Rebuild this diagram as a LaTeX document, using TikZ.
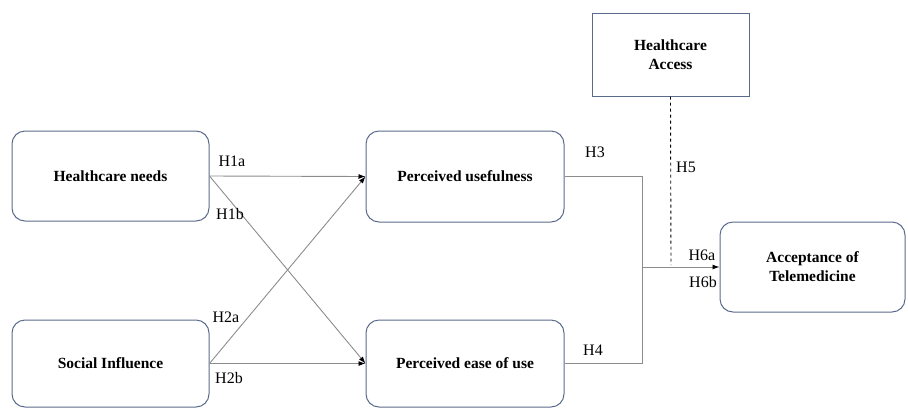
\documentclass[tikz,border=0pt]{standalone}
\usepackage{fontspec}
\setmainfont{LiberationSerif}[Extension=.ttf,UprightFont=*-Regular,BoldFont=*-Bold,ItalicFont=*-Italic,BoldItalicFont=*-BoldItalic]
\usetikzlibrary{arrows.meta}
\definecolor{boxc}{HTML}{5B6B8C}
\definecolor{linec}{HTML}{8C8C8C}
\begin{document}
\begin{tikzpicture}[x=1pt,y=-1pt,
  rbox/.style={draw=boxc,line width=1pt,rounded corners=13pt,inner sep=0pt,align=center,
    font=\fontsize{15.5}{19}\selectfont\bfseries},
  sbox/.style={draw=boxc,line width=1pt,inner sep=0pt,align=center,
    font=\fontsize{15.5}{19}\selectfont\bfseries},
  conn/.style={draw=linec,line width=0.9pt},
  tip/.style={-{Latex[length=7pt,width=5pt,black]}},
  lab/.style={inner sep=0pt,font=\fontsize{16}{19}\selectfont}]
\useasboundingbox (0,0) rectangle (908,408);
\node[rbox,minimum width=197pt,minimum height=90pt] (hn) at (110.5,176) {Healthcare needs};
\node[rbox,minimum width=197pt,minimum height=87pt] (si) at (110.5,363.5) {Social Influence};
\node[rbox,minimum width=198pt,minimum height=91pt] (pu) at (465,176.5) {Perceived usefulness};
\node[rbox,minimum width=198pt,minimum height=87pt] (peu) at (465,363.5) {Perceived ease of use};
\node[rbox,minimum width=185pt,minimum height=90pt] (acc) at (812.5,267) {Acceptance of\\Telemedicine};
\node[sbox,minimum width=157pt,minimum height=83pt] (ha) at (670.5,54.5) {Healthcare\\Access};
\coordinate (j) at (642,267);
\coordinate (d) at (671,265);
\draw[conn,tip] (hn.east) -- (pu.west);
\draw[conn,tip] (hn.east) -- (peu.west);
\draw[conn,tip] (si.east) -- (pu.west);
\draw[conn,tip] (si.east) -- (peu.west);
\draw[conn] (pu.east) -| (j);
\draw[conn] (peu.east) -| (j);
\draw[conn,tip] (j) -- (acc.west);
\draw[black,line width=0.9pt,dashed] (ha.south) -- (d);
\node[lab] (l1a) at (232,161) {H1a};
\node[lab] (l1b) at (230,214) {H1b};
\node[lab] (l2a) at (226,317) {H2a};
\node[lab] (l2b) at (229,378) {H2b};
\node[lab] (l3) at (595,152) {H3};
\node[lab] (l4) at (593,350) {H4};
\node[lab] (l5) at (686,167) {H5};
\node[lab] (l6a) at (702,255) {H6a};
\node[lab] (l6b) at (703,282) {H6b};
\end{tikzpicture}
\end{document}
